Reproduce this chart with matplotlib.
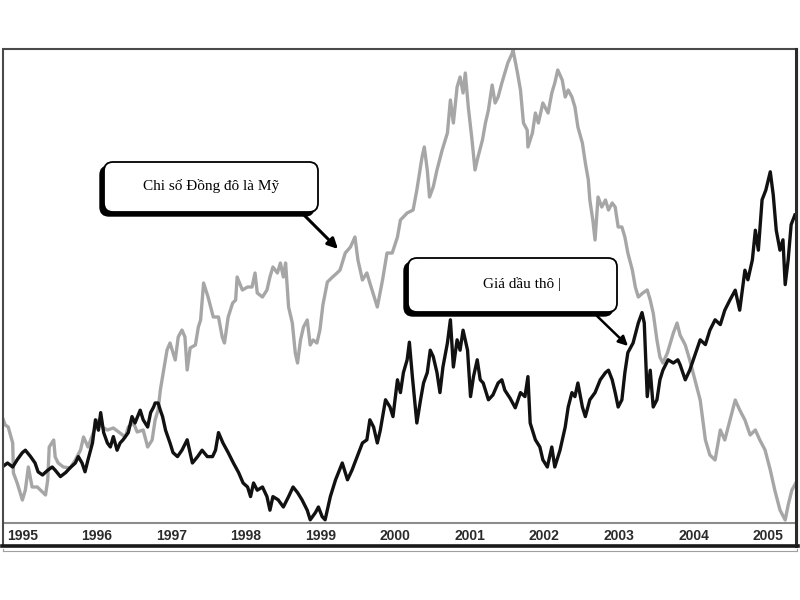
import matplotlib.pyplot as plt
from matplotlib.patches import FancyBboxPatch, Rectangle

# US dollar index (gray)
usd_t = [1994.73, 1994.77, 1994.81, 1994.87, 1994.88, 1994.93, 1995.00, 1995.04, 1995.08, 1995.13,
         1995.20, 1995.27, 1995.31, 1995.34, 1995.36, 1995.42, 1995.44, 1995.48, 1995.55, 1995.64,
         1995.71, 1995.78, 1995.82, 1995.88, 1995.95, 1996.02, 1996.07, 1996.14, 1996.22, 1996.31,
         1996.38, 1996.42, 1996.49, 1996.54, 1996.62, 1996.68, 1996.74, 1996.78, 1996.82, 1996.85,
         1996.89, 1996.94, 1996.98, 1997.05, 1997.09, 1997.14, 1997.18, 1997.21, 1997.25, 1997.32,
         1997.36, 1997.39, 1997.43, 1997.49, 1997.56, 1997.63, 1997.68, 1997.71, 1997.76, 1997.82,
         1997.86, 1997.88, 1997.95, 1998.02, 1998.08, 1998.12, 1998.15, 1998.22, 1998.28, 1998.32,
         1998.36, 1998.42, 1998.46, 1998.50, 1998.53, 1998.57, 1998.62, 1998.66, 1998.69, 1998.73,
         1998.77, 1998.82, 1998.86, 1998.90, 1998.95, 1998.99, 1999.03, 1999.09, 1999.16, 1999.22,
         1999.26, 1999.33, 1999.40, 1999.46, 1999.50, 1999.56, 1999.62, 1999.66, 1999.76, 1999.83,
         1999.89, 1999.96, 2000.03, 2000.07, 2000.16, 2000.24, 2000.29, 2000.36, 2000.39, 2000.43,
         2000.46, 2000.51, 2000.56, 2000.63, 2000.70, 2000.74, 2000.78, 2000.83, 2000.87, 2000.91,
         2000.94, 2000.98, 2001.03, 2001.07, 2001.11, 2001.17, 2001.21, 2001.25, 2001.30, 2001.34,
         2001.38, 2001.43, 2001.47, 2001.51, 2001.57, 2001.58, 2001.64, 2001.68, 2001.72, 2001.77,
         2001.78, 2001.84, 2001.88, 2001.92, 2001.98, 2002.05, 2002.10, 2002.14, 2002.18, 2002.24,
         2002.28, 2002.32, 2002.37, 2002.41, 2002.45, 2002.51, 2002.55, 2002.59, 2002.61, 2002.65,
         2002.68, 2002.72, 2002.77, 2002.82, 2002.86, 2002.91, 2002.95, 2002.99, 2003.04, 2003.08,
         2003.12, 2003.18, 2003.22, 2003.26, 2003.32, 2003.38, 2003.42, 2003.46, 2003.51, 2003.55,
         2003.59, 2003.65, 2003.69, 2003.73, 2003.78, 2003.82, 2003.89, 2003.95, 2004.02, 2004.09,
         2004.16, 2004.22, 2004.29, 2004.36, 2004.42, 2004.49, 2004.56, 2004.62, 2004.69, 2004.76,
         2004.83, 2004.89, 2004.96, 2005.03, 2005.09, 2005.16, 2005.23, 2005.27, 2005.32, 2005.38]
usd = [85.6, 84.8, 84.6, 83.0, 80.0, 79.0, 77.3, 78.3, 80.6, 78.6,
       78.6, 78.1, 77.8, 79.3, 82.6, 83.3, 81.6, 81.0, 80.6, 80.5,
       81.3, 82.3, 83.6, 82.6, 84.0, 85.3, 84.6, 84.3, 84.5, 84.0,
       83.6, 84.6, 85.0, 84.1, 84.3, 82.6, 83.3, 85.3, 86.3, 88.3,
       90.1, 92.3, 93.0, 91.3, 93.6, 94.3, 93.6, 90.3, 92.5, 92.8,
       94.6, 95.3, 99.0, 97.6, 95.6, 95.6, 93.6, 93.0, 95.6, 97.0,
       97.3, 99.6, 98.3, 98.6, 98.6, 100.0, 98.0, 97.6, 98.3, 99.6,
       100.6, 100.0, 101.0, 99.6, 101.0, 96.6, 95.0, 92.0, 91.0, 93.3,
       94.6, 95.3, 92.8, 93.3, 93.0, 94.3, 96.8, 99.1, 99.6, 100.0,
       100.3, 102.0, 102.6, 103.6, 101.3, 99.3, 100.0, 99.0, 96.6, 99.3,
       102.0, 102.0, 103.6, 105.3, 106.0, 106.3, 108.3, 111.6, 112.6, 110.3,
       107.6, 108.6, 110.3, 112.3, 114.0, 117.3, 115.0, 118.6, 119.6, 118.0,
       120.0, 116.6, 113.3, 110.3, 111.6, 113.3, 115.0, 116.3, 118.8, 117.0,
       117.6, 119.0, 120.0, 121.0, 122.0, 122.3, 120.0, 118.3, 115.0, 114.3,
       112.6, 114.0, 116.0, 115.0, 117.0, 116.0, 118.0, 119.0, 120.3, 119.3,
       117.6, 118.3, 117.6, 116.6, 114.6, 113.0, 111.0, 109.3, 107.3, 105.3,
       103.3, 107.6, 106.6, 107.3, 106.3, 107.0, 106.6, 104.6, 104.6, 103.6,
       102.0, 100.3, 98.6, 97.6, 98.0, 98.3, 97.3, 96.0, 93.3, 91.6,
       91.0, 92.0, 93.0, 94.0, 95.0, 93.8, 92.8, 91.3, 89.3, 87.3,
       83.3, 81.8, 81.3, 84.3, 83.3, 85.3, 87.3, 86.3, 85.3, 83.8,
       84.3, 83.3, 82.3, 80.3, 78.3, 76.3, 75.3, 76.8, 78.3, 79.1]

# crude oil price (black)
oil_t = [1994.73, 1994.80, 1994.87, 1994.93, 1995.00, 1995.04, 1995.11, 1995.17, 1995.21, 1995.27,
         1995.34, 1995.40, 1995.44, 1995.51, 1995.58, 1995.64, 1995.71, 1995.75, 1995.80, 1995.84,
         1995.88, 1995.94, 1995.98, 1996.02, 1996.05, 1996.09, 1996.14, 1996.18, 1996.22, 1996.27,
         1996.31, 1996.35, 1996.42, 1996.47, 1996.51, 1996.58, 1996.62, 1996.68, 1996.72, 1996.76,
         1996.78, 1996.82, 1996.85, 1996.88, 1996.92, 1996.98, 1997.02, 1997.08, 1997.14, 1997.21,
         1997.28, 1997.35, 1997.41, 1997.48, 1997.55, 1997.59, 1997.63, 1997.69, 1997.76, 1997.83,
         1997.90, 1997.96, 1998.02, 1998.06, 1998.10, 1998.15, 1998.22, 1998.28, 1998.32, 1998.36,
         1998.43, 1998.50, 1998.57, 1998.63, 1998.69, 1998.75, 1998.82, 1998.86, 1998.93, 1998.97,
         1999.02, 1999.06, 1999.13, 1999.20, 1999.29, 1999.36, 1999.42, 1999.49, 1999.56, 1999.62,
         1999.66, 1999.71, 1999.76, 1999.80, 1999.87, 1999.93, 1999.97, 2000.03, 2000.07, 2000.11,
         2000.16, 2000.19, 2000.23, 2000.27, 2000.29, 2000.34, 2000.38, 2000.43, 2000.47, 2000.51,
         2000.56, 2000.60, 2000.64, 2000.70, 2000.74, 2000.78, 2000.83, 2000.87, 2000.91, 2000.97,
         2001.01, 2001.05, 2001.10, 2001.14, 2001.18, 2001.25, 2001.31, 2001.38, 2001.43, 2001.47,
         2001.54, 2001.61, 2001.68, 2001.74, 2001.78, 2001.81, 2001.88, 2001.94, 2001.98, 2002.04,
         2002.10, 2002.14, 2002.21, 2002.28, 2002.32, 2002.37, 2002.41, 2002.45, 2002.51, 2002.55,
         2002.61, 2002.68, 2002.75, 2002.82, 2002.86, 2002.91, 2002.95, 2002.99, 2003.04, 2003.08,
         2003.12, 2003.19, 2003.26, 2003.31, 2003.34, 2003.38, 2003.42, 2003.46, 2003.51, 2003.55,
         2003.59, 2003.66, 2003.73, 2003.79, 2003.82, 2003.89, 2003.95, 2004.02, 2004.09, 2004.16,
         2004.22, 2004.29, 2004.36, 2004.42, 2004.49, 2004.56, 2004.62, 2004.69, 2004.73, 2004.79,
         2004.83, 2004.87, 2004.92, 2004.97, 2005.03, 2005.07, 2005.11, 2005.16, 2005.20, 2005.23,
         2005.27, 2005.31, 2005.36]
oil = [17.0, 17.5, 17.0, 17.9, 18.8, 19.1, 18.3, 17.5, 16.4, 16.0,
       16.6, 17.0, 16.6, 15.8, 16.3, 16.9, 17.5, 18.3, 17.5, 16.4,
       17.9, 20.0, 22.9, 21.6, 23.8, 21.3, 20.0, 19.5, 20.8, 19.1,
       20.0, 20.4, 21.3, 23.3, 22.5, 24.1, 22.9, 22.0, 23.8, 24.5,
       25.0, 25.0, 24.1, 23.3, 21.6, 20.0, 18.8, 18.3, 19.1, 20.4,
       17.5, 18.3, 19.1, 18.3, 18.3, 19.1, 21.3, 20.0, 18.8, 17.5,
       16.3, 15.0, 14.5, 13.3, 15.0, 14.1, 14.5, 13.3, 11.6, 13.3,
       12.9, 12.0, 13.3, 14.5, 13.8, 12.9, 11.6, 10.4, 11.3, 12.0,
       10.8, 10.4, 13.3, 15.4, 17.5, 15.4, 16.6, 18.3, 20.0, 20.4,
       22.9, 22.0, 20.0, 21.6, 25.4, 24.5, 23.3, 27.9, 26.3, 28.8,
       30.4, 32.6, 28.3, 24.5, 22.5, 25.4, 27.5, 28.8, 31.6, 30.8,
       28.8, 26.3, 29.5, 32.5, 35.4, 29.5, 32.9, 31.6, 34.1, 31.6,
       25.8, 28.3, 30.4, 27.9, 27.5, 25.4, 26.0, 27.5, 27.9, 26.6,
       25.6, 24.4, 26.3, 25.8, 28.3, 22.5, 20.4, 19.5, 17.9, 17.0,
       19.5, 17.0, 19.1, 22.0, 24.5, 26.3, 25.8, 27.5, 24.5, 23.3,
       25.4, 26.3, 27.9, 28.8, 29.1, 27.9, 26.3, 24.5, 25.4, 28.8,
       31.3, 32.5, 35.0, 36.3, 35.0, 25.8, 29.1, 24.5, 25.4, 27.9,
       29.1, 30.4, 30.0, 30.4, 29.8, 27.9, 29.1, 31.0, 32.9, 32.3,
       34.1, 35.4, 34.8, 36.6, 37.9, 39.1, 36.6, 41.6, 40.4, 42.9,
       46.6, 44.1, 50.4, 51.6, 53.9, 51.0, 46.6, 44.1, 45.4, 39.8,
       42.9, 47.3, 48.5]

years = list(range(1995, 2006))

fig = plt.figure(figsize=(8, 6), dpi=100)

# main chart, two hidden y scales
ax = fig.add_axes([3 / 800, 1 - 523 / 600, 793 / 800, 474 / 600])
ax.plot(usd_t, usd, color='#a6a6a6', lw=2.4)
ax2 = ax.twinx()
ax2.plot(oil_t, oil, color='#111111', lw=2.4)

ax.set_xlim(1994.74, 2005.375)
ax.set_ylim(75, 122.4)
ax2.set_ylim(10, 69.25)
ax.set_xticks(years)
ax.set_xticklabels([str(y) for y in years], family='Liberation Sans',
                   fontweight='bold', fontsize=10, color='#2b2b2b')
ax.tick_params(axis='x', length=0, pad=4)
ax.set_yticks([])
ax2.set_yticks([])
for s in ['top', 'left', 'right']:
    ax.spines[s].set_visible(False)
    ax2.spines[s].set_visible(False)
ax2.spines['bottom'].set_visible(False)
ax.spines['bottom'].set_color('#8c8c8c')
ax.spines['bottom'].set_linewidth(1.5)

# overlay in pixel units for frame and callouts
ov = fig.add_axes([0, 0, 1, 1])
ov.set_xlim(0, 800)
ov.set_ylim(600, 0)
ov.axis('off')

ov.add_patch(Rectangle((2.5, 49), 794, 497, fill=False, ec='#4a4a4a', lw=1.5))
ov.plot([796, 796], [49, 546], color='#2a2a2a', lw=2.2)
ov.plot([2, 797.5], [545.5, 545.5], color='#1a1a1a', lw=2.6)
ov.plot([3, 797], [551, 551], color='#a0a0a0', lw=0.8)
for xx in [3, 797]:
    ov.plot([xx, xx], [548.5, 551], color='#a0a0a0', lw=0.8)


def callout(x0, y0, x1, y1, text, tx, ty):
    shadow = FancyBboxPatch((x0 - 4, y0 + 4), x1 - x0, y1 - y0,
                            boxstyle='round,pad=0,rounding_size=9',
                            fc='black', ec='black', lw=1)
    box = FancyBboxPatch((x0, y0), x1 - x0, y1 - y0,
                         boxstyle='round,pad=0,rounding_size=9',
                         fc='white', ec='black', lw=1.3)
    ov.add_patch(shadow)
    ov.add_patch(box)
    ov.text(tx, ty, text, ha='center', va='center', fontsize=11,
            family=['Liberation Serif', 'DejaVu Serif'], color='black')


callout(104, 162, 318, 212, 'Chi số Đồng đô là Mỹ', 211, 186)
ov.annotate('', xy=(338, 249), xytext=(303, 214),
            arrowprops=dict(arrowstyle='-|>', color='black', lw=2.2,
                            mutation_scale=15, shrinkA=0, shrinkB=0))

callout(408, 258, 617, 312, 'Giá dầu thô |', 522, 284)
ov.annotate('', xy=(628, 346), xytext=(597, 316),
            arrowprops=dict(arrowstyle='-|>', color='black', lw=1.8,
                            mutation_scale=14, shrinkA=0, shrinkB=0))

fig.savefig('out.png', dpi=100, facecolor='white')
